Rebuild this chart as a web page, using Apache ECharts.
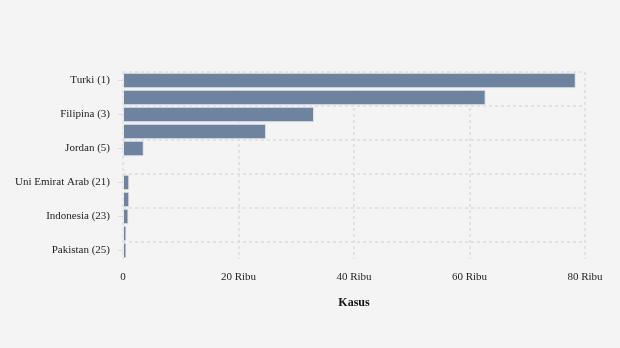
<!DOCTYPE html>
<html>
<head>
<meta charset="utf-8">
<style>
html,body{margin:0;padding:0;background:#f4f4f4;}
#chart{width:620px;height:348px;}
</style>
<script src="https://cdn.jsdelivr.net/npm/echarts@6/dist/echarts.min.js"></script>
</head>
<body>
<div id="chart"></div>
<script>
const categories = ['Turki (1)', 'Iran (2)', 'Filipina (3)', 'India (4)', 'Jordan (5)', '', 'Uni Emirat Arab (21)', 'Kuwait (22)', 'Indonesia (23)', 'Qatar (24)', 'Pakistan (25)'];
const values = [78400, 62800, 33100, 24800, 3600, null, 1100, 1100, 950, 600, 600];
const xTicks = [0, 20000, 40000, 60000, 80000];
const xTickLabels = ['0', '20 Ribu', '40 Ribu', '60 Ribu', '80 Ribu'];

const chart = echarts.init(document.getElementById('chart'), null, {renderer: 'canvas'});
const font = '"Liberation Serif", "DejaVu Serif", serif';
chart.setOption({
  backgroundColor: '#f4f4f4',
  textStyle: {fontFamily: font},
  grid: {left: 123, right: 35, top: 72, bottom: 89, containLabel: false},
  xAxis: {
    type: 'value',
    min: xTicks[0],
    max: xTicks[xTicks.length - 1],
    interval: xTicks[1] - xTicks[0],
    name: 'Kasus',
    nameLocation: 'middle',
    nameGap: 38,
    nameTextStyle: {fontFamily: font, fontSize: 12, fontWeight: 'bold', color: '#111'},
    axisLine: {show: false},
    axisTick: {show: false},
    axisLabel: {
      margin: 13, fontFamily: font, fontSize: 11, color: '#222',
      formatter: function (v) { const i = xTicks.indexOf(v); return i >= 0 ? xTickLabels[i] : ''; }
    },
    splitLine: {show: true, lineStyle: {color: '#dcdcdc', type: [3, 3], width: 1.5}}
  },
  yAxis: {
    type: 'category',
    inverse: true,
    data: categories,
    axisLine: {show: false},
    axisTick: {show: true, alignWithLabel: true, interval: 1, length: 5, lineStyle: {color: '#dcdcdc'}},
    axisLabel: {interval: 1, margin: 13, padding: [3, 0, 0, 0], fontFamily: font, fontSize: 11, color: '#222'},
    splitLine: {
      show: true,
      interval: 1,
      showMaxLine: false,
      lineStyle: {color: '#dcdcdc', type: [3, 3], width: 1.5}
    }
  },
  series: [{
    type: 'bar',
    data: values,
    barCategoryGap: '8%',
    itemStyle: {color: '#6e839f', borderColor: '#e8eaee', borderWidth: 1},
    animation: false
  }]
});
</script>
</body>
</html>
